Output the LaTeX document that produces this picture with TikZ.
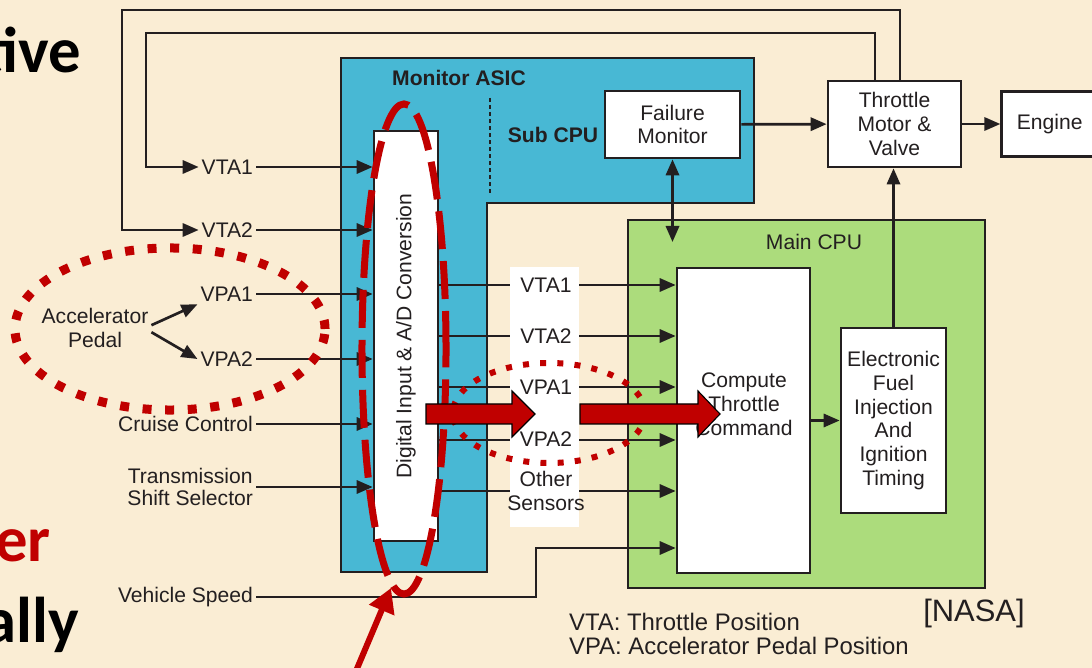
\documentclass[tikz,border=0pt]{standalone}
\usepackage{fontspec}
\setmainfont{Liberation Sans}
\newfontfamily\slidefont{Carlito}
\usepackage{tikz}
\usetikzlibrary{arrows.meta,positioning,calc}
\definecolor{slidebg}{RGB}{250,237,212}
\definecolor{asicblue}{RGB}{72,184,212}
\definecolor{cpugreen}{RGB}{172,220,124}
\definecolor{ink}{RGB}{35,31,32}
\definecolor{hilite}{RGB}{192,0,0}
\newcommand{\bigarrow}[3]{\filldraw[fill=hilite, draw=black, line width=0.8pt] (#1,404) -- (#2,404) -- (#2,391) -- (#3,414) -- (#2,437) -- (#2,424) -- (#1,424) -- cycle;}

\begin{document}
\begin{tikzpicture}[
  x=0.025cm, y=-0.025cm,
  font=\fontsize{15}{17}\selectfont,
  box/.style={draw=ink, line width=1.9pt, fill=white, align=center, text=ink, inner sep=1pt},
  panel/.style={draw=ink, line width=1.9pt, inner sep=0pt},
  tag/.style={align=center, text=ink, inner sep=2pt},
  title/.style={text=ink, font=\bfseries\fontsize{15}{17}\selectfont},
  slide/.style={font=\slidefont\bfseries\fontsize{46}{50}\selectfont, inner sep=0pt},
  arrow/.style={-{Triangle[length=0.4cm,width=0.33cm]}, draw=ink, line width=1.9pt},
  hlmark/.style={draw=hilite, line cap=butt}
]
\path[use as bounding box, fill=slidebg] (0,0) rectangle (1092,668);
\clip (0,0) rectangle (1092,668);

% cut off slide text
\node[slide, anchor=base east] (sl1) at (81,73) {tive};
\node[slide, anchor=base east, text=hilite] (sl2) at (51,561) {er};
\node[slide, anchor=base east] (sl3) at (79,642) {ally};

% monitor ASIC
\filldraw[fill=asicblue, draw=ink, line width=1.9pt] (341,58) -- (754,58) -- (754,203) -- (487,203) -- (487,572) -- (341,572) -- cycle;
\node[title] (asic) at (459,78) {Monitor ASIC};
\node[title] (subcpu) at (553,135) {Sub CPU};
\draw[ink, line width=1.4pt, dash pattern=on 0.1cm off 0.075cm] (490,98) -- (490,195);
\node[box, minimum width=1.6cm, minimum height=10.25cm] (ad) at (406,336) {\rotatebox{90}{Digital Input \& A/D Conversion}};
\node[box, minimum width=3.375cm, minimum height=1.675cm] (fm) at (672.5,124.5) {Failure\\Monitor};

% main CPU
\node[panel, fill=cpugreen, minimum width=8.925cm, minimum height=9.2cm] (main) at (806.5,404) {};
\node[tag] (mainlbl) at (814,242) {Main CPU};
\node[box, minimum width=3.325cm, minimum height=7.625cm] (cpt) at (743.5,420.5) {};
\node[tag] (cpttxt) at (744,404) {Compute\\Throttle\\Command};
\node[box, minimum width=2.625cm, minimum height=4.625cm] (efi) at (893.5,420.5) {Electronic\\Fuel\\Injection\\And\\Ignition\\Timing};

\node[box, minimum width=3.325cm, minimum height=2.15cm] (tmv) at (894.5,124) {Throttle\\Motor \&\\Valve};
\node[box, minimum width=2.4cm, minimum height=1.625cm, right=0.95cm of tmv] (eng) {Engine};

% inputs
\node[tag, anchor=east] (lvta1) at (256,167) {VTA1};
\node[tag, anchor=east] (lvta2) at (256,230) {VTA2};
\node[tag, anchor=east] (lvpa1) at (256,294) {VPA1};
\node[tag, anchor=east] (lvpa2) at (256,359) {VPA2};
\node[tag, anchor=east] (lcc) at (256,424) {Cruise Control};
\node[tag, anchor=east, font=\fontsize{15}{15}\selectfont] (lts) at (256,487) {Transmission\\Shift Selector};
\node[tag, anchor=east] (lvs) at (256,597) {Vehicle Speed};
\node[tag] (acc) at (95,328) {Accelerator\\Pedal};

\draw[arrow] ([yshift=2pt]acc.east) -- (lvpa1.south west);
\draw[arrow] ([yshift=-3pt]acc.east) -- (lvpa2.west);
\foreach \n in {lvta1,lvta2,lvpa1,lvpa2,lcc,lts}
  \draw[arrow] (\n.east) -- (ad.west |- \n.east);

\coordinate (otop) at (122,10);
\coordinate (oright) at (900,10);
\coordinate (itop) at (146,33);
\coordinate (iright) at (875,33);
\draw[arrow] (oright |- tmv.north) -- (oright) -- (otop) |- (lvta2.west);
\draw[arrow] (iright |- tmv.north) -- (iright) -- (itop) |- (lvta1.west);

\coordinate (vsb) at (536,548);
\draw[arrow] (lvs.east) -| (vsb) -- (cpt.west |- vsb);

\foreach \y in {285,336,387,440,491}
  \draw[arrow] (ad.east |- 0,\y) -- (cpt.west |- 0,\y);

\draw[arrow] (cpt) -- (efi);
\draw[arrow] (efi.north) -- (efi.north |- tmv.south);
\draw[arrow] (fm) -- (tmv);
\draw[arrow] (tmv) -- (eng);
\draw[arrow, {Triangle[length=0.4cm,width=0.33cm]}-{Triangle[length=0.4cm,width=0.33cm]}] (fm.south) -- (fm.south |- mainlbl);

% signal names between ASIC and main CPU
\node[fill=white, minimum width=1.725cm, minimum height=6.5cm, inner sep=0pt] (col) at (544.5,397) {};
\node[tag] (rvta1) at (546,285) {VTA1};
\node[tag] (rvta2) at (546,336) {VTA2};
\node[tag] (rvpa1) at (546,387) {VPA1};
\node[tag] (rvpa2) at (546,439) {VPA2};
\node[tag] (roth) at (546,491) {Other\\Sensors};

% legend
\node[tag, anchor=west, align=left, font=\fontsize{17}{17.7}\selectfont] (leg) at (566,634) {VTA: Throttle Position\\VPA: Accelerator Pedal Position};
\node[tag, font=\fontsize{22}{26}\selectfont] (src) at (974,613) {[NASA]};

% red highlights
\draw[hlmark, line width=0.175cm, dash pattern=on 0.95cm off 0.3cm] (404,349) ellipse [x radius=1.05cm, y radius=6.125cm];
\draw[hlmark, line width=0.225cm, dash pattern=on 0.225cm off 0.34cm] (170,329) ellipse [x radius=3.875cm, y radius=2.025cm];
\draw[hlmark, line width=0.15cm, dash pattern=on 0.15cm off 0.28cm] (549,413) ellipse [x radius=2.4cm, y radius=1.25cm];
\bigarrow{426}{512}{535}
\bigarrow{580}{698}{720}
\draw[hilite, line width=0.15cm, -{Triangle[length=0.6cm,width=0.65cm]}] (348,690) -- (391,588);
\end{tikzpicture}
\end{document}
